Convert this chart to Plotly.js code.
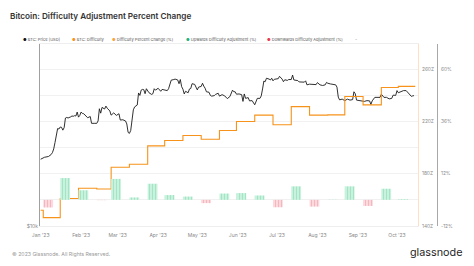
<!DOCTYPE html>
<html>
<head>
<meta charset="utf-8">
<script src="https://cdn.plot.ly/plotly-3.0.1.min.js"></script>
<style>
html,body{margin:0;padding:0;background:#fff;}
#chart{width:474px;height:266px;}
</style>
</head>
<body>
<div id="chart"></div>
<script>
// BTC price (USD)
const priceDates = ['2023-01-01','2023-01-04','2023-01-07','2023-01-09','2023-01-10','2023-01-11','2023-01-12','2023-01-13','2023-01-14','2023-01-15','2023-01-16','2023-01-17','2023-01-18','2023-01-19','2023-01-20','2023-01-21','2023-01-22','2023-01-24','2023-01-25','2023-01-26','2023-01-27','2023-01-28','2023-01-29','2023-01-30','2023-01-31','2023-02-01','2023-02-02','2023-02-03','2023-02-05','2023-02-06','2023-02-08','2023-02-09','2023-02-11','2023-02-13','2023-02-14','2023-02-15','2023-02-16','2023-02-17','2023-02-19','2023-02-20','2023-02-21','2023-02-22','2023-02-23','2023-02-24','2023-02-26','2023-02-28','2023-03-02','2023-03-03','2023-03-05','2023-03-07','2023-03-08','2023-03-09','2023-03-10','2023-03-11','2023-03-12','2023-03-13','2023-03-14','2023-03-16','2023-03-17','2023-03-18','2023-03-19','2023-03-20','2023-03-21','2023-03-22','2023-03-23','2023-03-25','2023-03-27','2023-03-28','2023-03-29','2023-03-30','2023-04-01','2023-04-03','2023-04-04','2023-04-06','2023-04-08','2023-04-09','2023-04-10','2023-04-11','2023-04-13','2023-04-14','2023-04-16','2023-04-17','2023-04-18','2023-04-19','2023-04-20','2023-04-21','2023-04-22','2023-04-24','2023-04-25','2023-04-26','2023-04-27','2023-04-29','2023-05-01','2023-05-02','2023-05-04','2023-05-05','2023-05-06','2023-05-07','2023-05-08','2023-05-09','2023-05-10','2023-05-11','2023-05-12','2023-05-14','2023-05-15','2023-05-17','2023-05-18','2023-05-20','2023-05-22','2023-05-24','2023-05-25','2023-05-26','2023-05-28','2023-05-29','2023-05-30','2023-05-31','2023-06-02','2023-06-04','2023-06-05','2023-06-06','2023-06-07','2023-06-09','2023-06-10','2023-06-12','2023-06-14','2023-06-15','2023-06-16','2023-06-18','2023-06-19','2023-06-20','2023-06-21','2023-06-22','2023-06-23','2023-06-25','2023-06-26','2023-06-27','2023-06-28','2023-06-29','2023-06-30','2023-07-02','2023-07-03','2023-07-05','2023-07-06','2023-07-07','2023-07-09','2023-07-10','2023-07-12','2023-07-13','2023-07-14','2023-07-16','2023-07-17','2023-07-18','2023-07-20','2023-07-22','2023-07-23','2023-07-24','2023-07-26','2023-07-28','2023-07-30','2023-07-31','2023-08-01','2023-08-03','2023-08-05','2023-08-07','2023-08-08','2023-08-09','2023-08-11','2023-08-13','2023-08-14','2023-08-15','2023-08-16','2023-08-17','2023-08-18','2023-08-20','2023-08-22','2023-08-24','2023-08-26','2023-08-28','2023-08-29','2023-08-30','2023-08-31','2023-09-02','2023-09-04','2023-09-06','2023-09-08','2023-09-10','2023-09-11','2023-09-12','2023-09-14','2023-09-16','2023-09-18','2023-09-19','2023-09-21','2023-09-23','2023-09-25','2023-09-27','2023-09-28','2023-09-30','2023-10-01','2023-10-02','2023-10-04','2023-10-06','2023-10-08','2023-10-09','2023-10-11','2023-10-12','2023-10-13','2023-10-14'];
const priceUSD = [16600,16850,16950,17200,17450,17950,18850,19950,20950,20880,21200,21150,20700,21100,22700,22800,22700,22900,23050,23000,23100,23050,23750,22850,23150,23750,23500,23450,22950,22750,22950,21800,21800,21800,22200,24350,23550,24600,24300,24850,24450,24200,23950,23200,23600,23150,23450,22350,22400,22200,21700,20350,20200,20650,22150,24150,24700,25050,27450,26950,28050,28200,28150,27300,28350,27500,27150,27300,28350,28050,28450,27800,28200,28050,27950,28350,29650,30250,30400,30500,30300,29450,30400,28800,28250,27250,27800,27500,28300,28400,29450,29300,28100,28700,28850,29550,28900,28450,27700,27650,27600,26950,26800,26900,27150,27400,26800,27100,26850,26300,26480,26720,28050,27700,27700,27200,27250,27100,25750,27250,26350,26500,25850,25900,25100,25600,26350,26350,26850,28300,30050,29900,30700,30500,30300,30700,30100,30450,30500,30600,31150,30500,29900,30350,30200,30400,30400,31450,30300,30250,30150,29850,29900,29800,30100,29200,29350,29300,29300,29250,29700,29200,29050,29200,29750,29550,29400,29300,29400,29200,28700,26600,26050,26200,25900,26200,26000,26100,27700,27300,26000,25900,25800,25750,25900,25850,25150,25850,26550,26550,26550,27200,26550,26550,26250,26350,27000,26950,27950,27500,27800,27950,27950,27600,26850,26750,26850,26900];

// BTC difficulty (Z hashes), step values starting at each adjustment
const diffDates = ['2023-01-01','2023-01-03','2023-01-16','2023-01-30','2023-02-13','2023-02-24','2023-03-10','2023-03-24','2023-04-06','2023-04-20','2023-05-04','2023-05-18','2023-05-31','2023-06-14','2023-06-28','2023-07-12','2023-07-26','2023-08-09','2023-08-22','2023-09-05','2023-09-19','2023-10-02','2023-10-15'];
const diffZ = [152.0,146.4,161.0,168.8,168.3,184.9,187.2,201.2,205.3,209.1,206.3,212.9,219.8,224.7,217.3,231.2,224.7,224.9,238.9,232.5,245.8,246.6,246.6];

// Difficulty adjustment percent change (%)
const adjDates = ['2023-01-03','2023-01-16','2023-01-30','2023-02-13','2023-02-24','2023-03-10','2023-03-24','2023-04-06','2023-04-20','2023-05-04','2023-05-18','2023-05-31','2023-06-14','2023-06-28','2023-07-12','2023-07-26','2023-08-09','2023-08-22','2023-09-05','2023-09-19','2023-10-02'];
const adjPct = [-3.5,10.0,4.4,-0.15,9.6,1.1,7.4,2.2,1.5,-1.5,2.9,3.1,2.0,-3.4,6.2,-3.1,0.1,6.2,-2.8,5.1,0.3];

const upDates = adjDates.filter((d,i)=>adjPct[i]>=0);
const upPct = adjPct.filter(v=>v>=0);
const downDates = adjDates.filter((d,i)=>adjPct[i]<0);
const downPct = adjPct.filter(v=>v<0);

const DAY = 86400000;
const FONT = 'Inter, "Open Sans", sans-serif';

const traces = [
  {type:'bar', x:upDates, y:upPct, yaxis:'y3', offset:0, width:7.5*DAY,
   marker:{color:'#c2f0d9', line:{width:0}, pattern:{shape:'|', fgcolor:'#9fe2c1', bgcolor:'#c8f2dd', size:3, solidity:0.3}},
   hoverinfo:'skip'},
  {type:'bar', x:downDates, y:downPct, yaxis:'y3', offset:0, width:7.5*DAY,
   marker:{color:'#fad3d8', line:{width:0}, pattern:{shape:'|', fgcolor:'#f3b3bc', bgcolor:'#fbd9dd', size:3, solidity:0.3}},
   hoverinfo:'skip'},
  {type:'scatter', mode:'lines', x:diffDates, y:diffZ, yaxis:'y2', line:{color:'#f7931a', width:1.1, shape:'hv'}},
  {type:'scatter', mode:'lines', x:priceDates, y:priceUSD, yaxis:'y', line:{color:'#1a1a1a', width:0.9}}
];

const plotL = 40, paperR = 437, plotR = 418, plotT = 44, plotB = 226;
const pw = paperR - plotL, ph = plotB - plotT;
const px = v => (v - plotL)/pw;
const py = v => (plotB - v)/ph;

const legendItems = [
  {x:21, color:'#111', text:'BTC: Price [USD]'},
  {x:70, color:'#f7931a', text:'BTC: Difficulty'},
  {x:110, color:'#f7a440', text:'Difficulty Percent Change (%)'},
  {x:184, color:'#23b27a', text:'Upwards Difficulty Adjustment (%)'},
  {x:265, color:'#e8384f', text:'Downwards Difficulty Adjustment (%)'}
];
const annotations = [];
legendItems.forEach(it=>{
  annotations.push({xref:'paper', yref:'paper', x:px(it.x), y:py(39), xanchor:'left', yanchor:'middle', showarrow:false,
    text:'<span style="color:'+it.color+'">●</span> '+it.text, font:{family:FONT, size:4.0, color:'#555'}});
});
annotations.push({xref:'paper', yref:'paper', x:px(356), y:py(39), xanchor:'center', yanchor:'middle', showarrow:false,
  text:'-', font:{family:FONT, size:5, color:'#999'}});
annotations.push({xref:'paper', yref:'paper', x:px(10), y:py(254), xanchor:'left', yanchor:'middle', showarrow:false,
  text:'© 2023 Glassnode. All Rights Reserved.', font:{family:FONT, size:5.2, color:'#9a9a9a'}});
annotations.push({xref:'paper', yref:'paper', x:px(464), y:py(252), xanchor:'right', yanchor:'middle', showarrow:false,
  text:'glassnode', font:{family:FONT, size:10.8, color:'#1f1f1f'}});

const layout = {
  width:474, height:266,
  margin:{l:plotL, r:474-paperR, t:plotT, b:266-plotB, pad:0},
  paper_bgcolor:'#fff', plot_bgcolor:'#fff',
  showlegend:false,
  barmode:'overlay',
  font:{family:FONT, color:'#888', size:5},
  title:{text:'Bitcoin: Difficulty Adjustment Percent Change', x:10/474, xanchor:'left', xref:'container', yref:'container', y:1-16/266, yanchor:'middle',
    font:{family:FONT, size:8.2, color:'#333', weight:600}},
  xaxis:{type:'date', domain:[0, (plotR-plotL)/pw], range:['2022-12-31 12:00','2023-10-17 02:00'],
    dtick:'M1', tick0:'2023-01-01', tickformat:"%b '%y", showgrid:false, zeroline:false,
    showline:true, linecolor:'#eeeeee', linewidth:1, mirror:true, ticks:'', ticklabelstandoff:4, tickfont:{size:5, color:'#888'}},
  yaxis:{type:'log', range:[4, 4.6], tickvals:[10000], ticktext:['$10k'], showgrid:false, zeroline:false,
    showline:true, linecolor:'#a0a0a0', linewidth:1, ticks:'', tickfont:{size:5, color:'#888'}},
  yaxis2:{overlaying:'y', side:'right', anchor:'x', range:[140, 279], tickvals:[140,180,220,260], ticktext:['140Z','180Z','220Z','260Z'],
    showgrid:false, zeroline:false, showline:true, linecolor:'#fde1c2', linewidth:1, ticks:'', ticklabelstandoff:2, tickfont:{size:4.8, color:'#888'}},
  yaxis3:{overlaying:'y', side:'right', anchor:'free', position:1, range:[-12, 71.5],
    tickvals:[-12,0,12,24,36,48,60], ticktext:['-12%','','12%','','36%','','60%'],
    showgrid:true, gridcolor:'#f1f1f1', gridwidth:1, zeroline:false, showline:true, linecolor:'#a8a8a8', linewidth:1, ticks:'', ticklabelstandoff:2, tickfont:{size:4.8, color:'#888'}},
  annotations:annotations
};

Plotly.newPlot('chart', traces, layout, {staticPlot:true, displayModeBar:false});
</script>
</body>
</html>
